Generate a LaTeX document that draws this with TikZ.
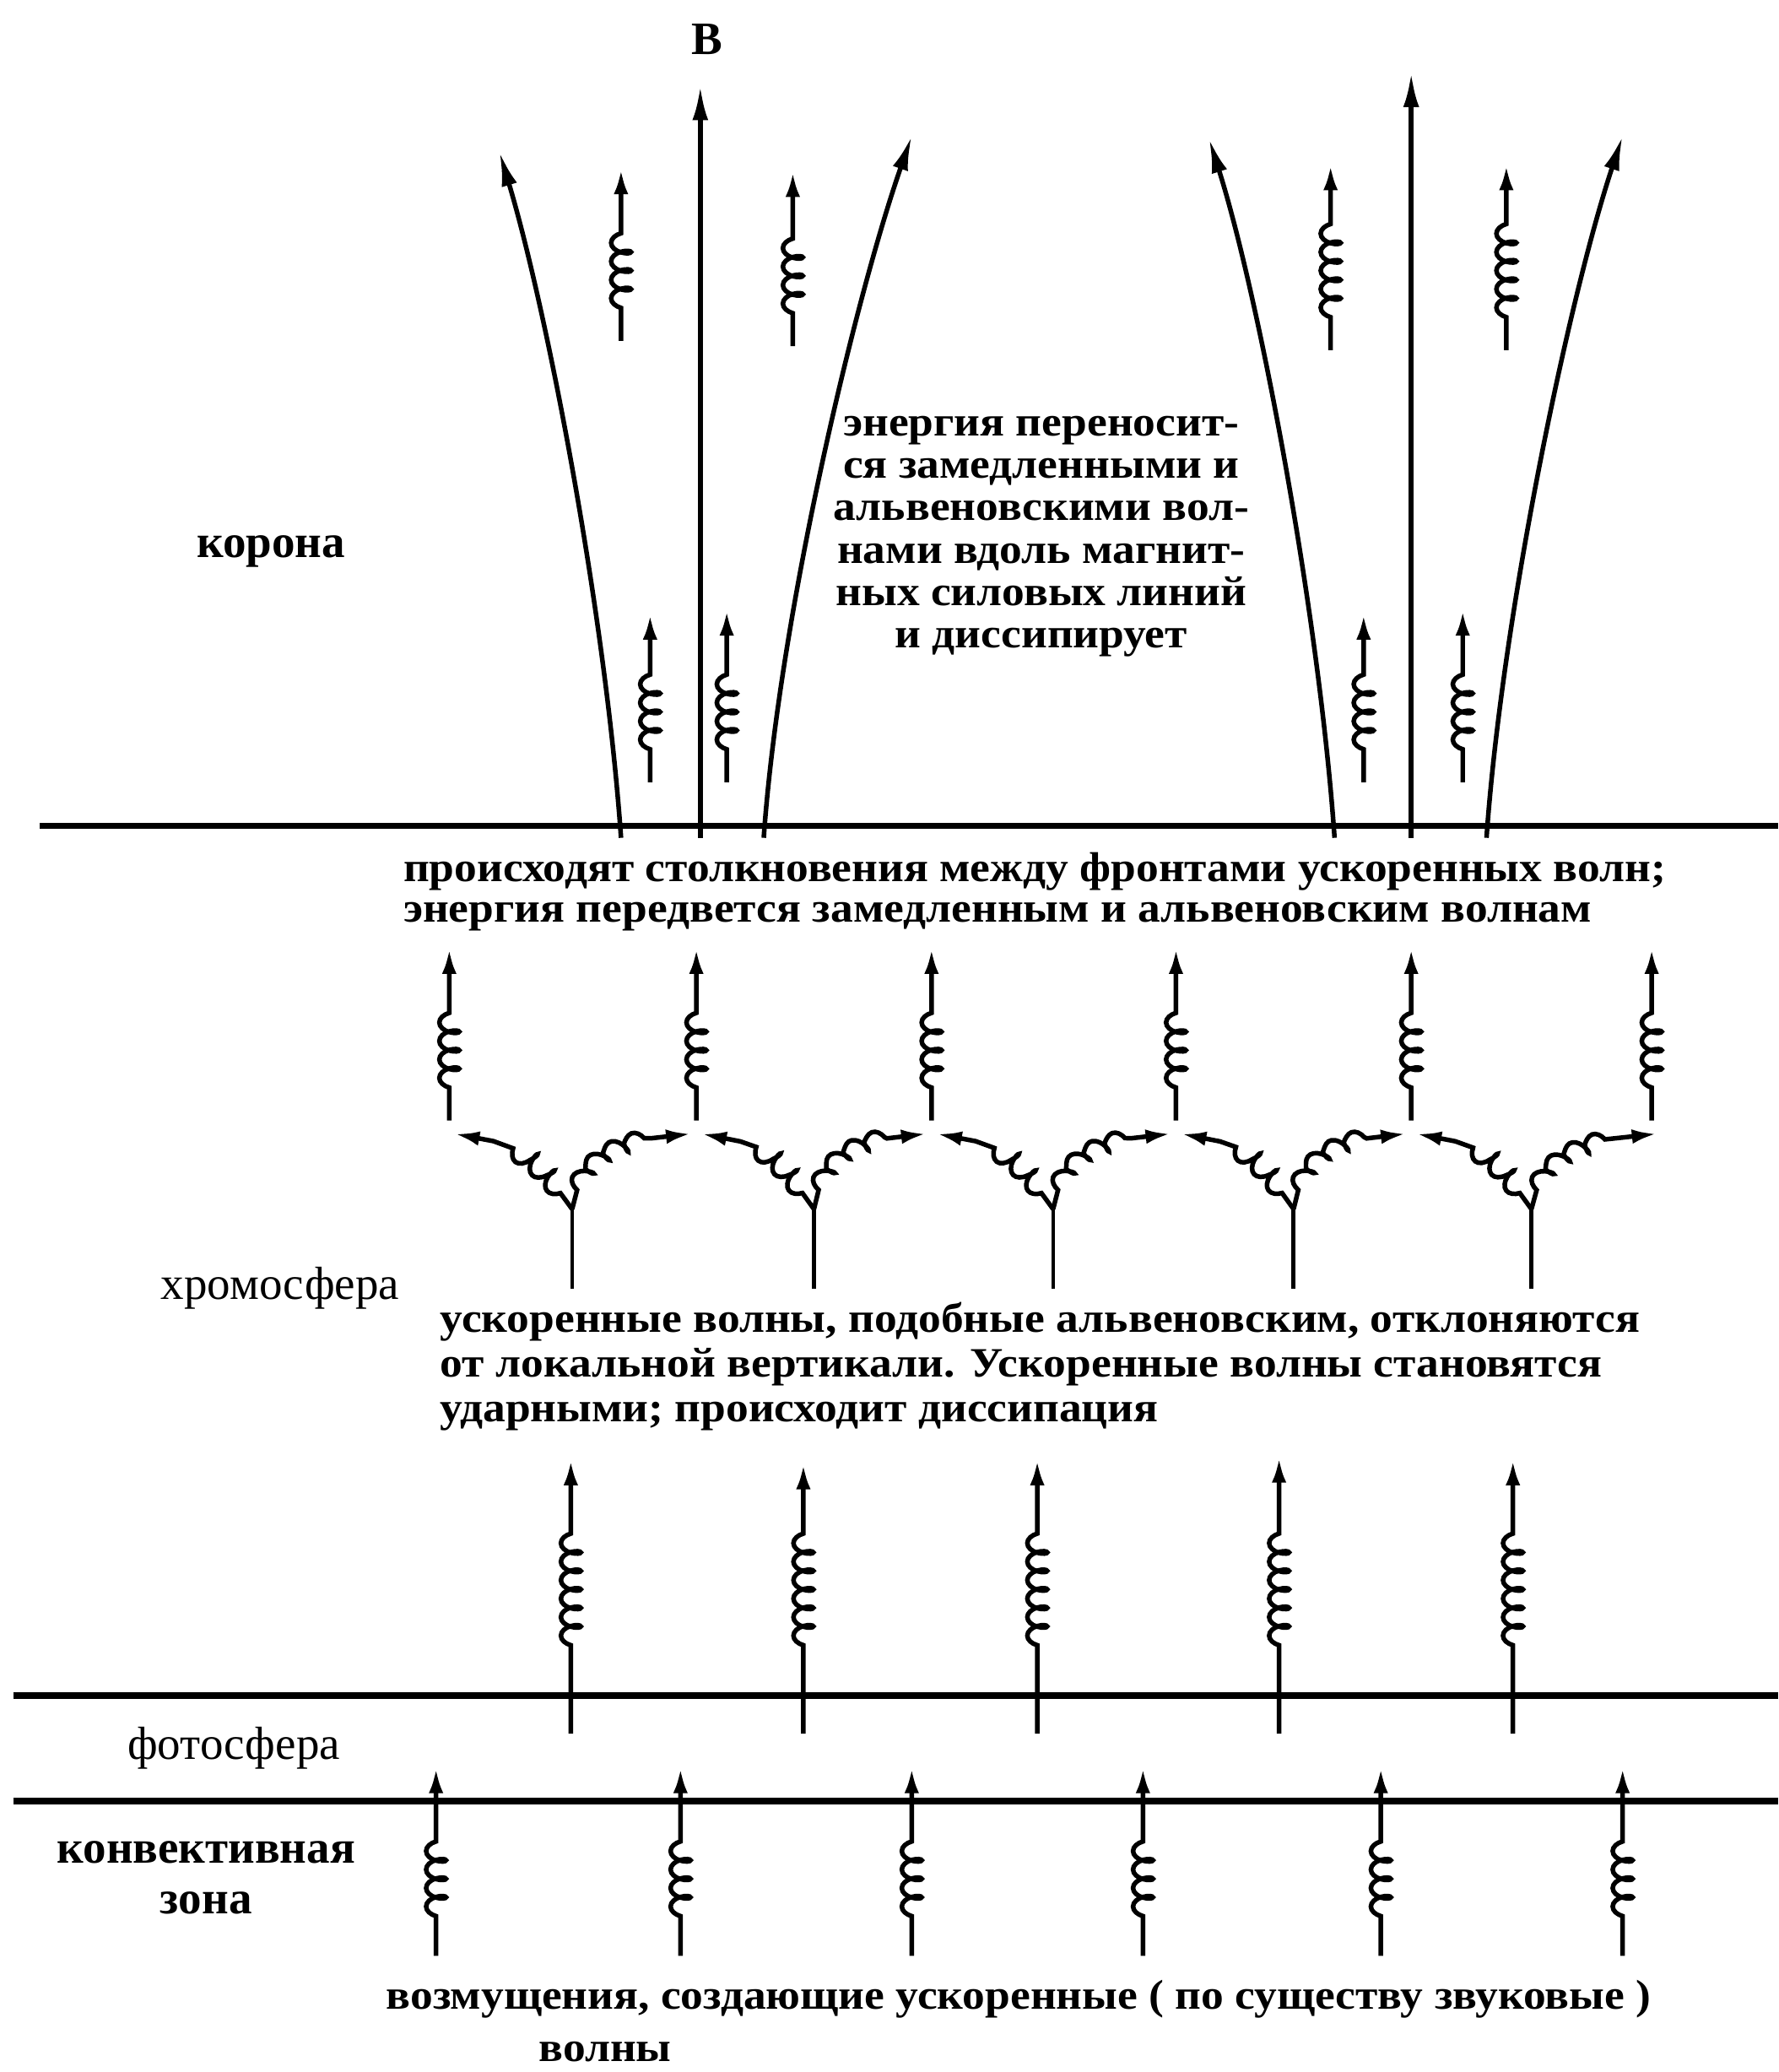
\documentclass[tikz,border=0pt]{standalone}
\usepackage{fontspec}
\setmainfont{Liberation Serif}
\newfontfamily\widefont[FakeStretch=1.08]{Liberation Serif}
\usetikzlibrary{decorations.pathmorphing,arrows.meta}
\begin{document}
\begin{tikzpicture}[x=0.02cm,y=-0.02cm,
  layer/.style={line width=0.1cm},
  field/.style={line width=0.07cm,-{Latex[length=0.52cm,width=0.24cm]}},
  stemline/.style={line width=0.06cm},
  spring/.style 2 args={line width=0.07cm,-{Latex[length=0.38cm,width=0.22cm]},
    decorate,decoration={coil,aspect=0.5,amplitude=0.15cm,segment length=0.28cm,
    pre length=#1,post length=#2}},
  branch/.style={line width=0.07cm,-{Latex[length=0.38cm,width=0.22cm]},
    decorate,decoration={coil,aspect=0.5,amplitude=0.14cm,segment length=0.34cm,
    pre length=0.3cm,post length=0.6cm}},
  txt/.style={inner sep=0pt,font={\fontsize{20pt}{18pt}\selectfont\bfseries}},
  txtr/.style={inner sep=0pt,font={\fontsize{20pt}{18pt}\selectfont}},
  block/.style={inner sep=0pt,font={\widefont\fontsize{18pt}{#1}\selectfont\bfseries}}
]
\useasboundingbox (0,0) rectangle (1346,1568);

% layer boundaries
\coordinate (A1) at (30,625);   \coordinate (A2) at (1346,625);
\coordinate (B1) at (10,1283);  \coordinate (B2) at (1346,1283);
\coordinate (C1) at (10,1363);  \coordinate (C2) at (1346,1363);
\draw[layer] (A1) -- (A2);
\draw[layer] (B1) -- (B2);
\draw[layer] (C1) -- (C2);

% magnetic field lines in the corona
\coordinate (c1b) at (530,634);  \coordinate (c1t) at (530,65);
\coordinate (l1b) at (470,634);  \coordinate (l1t) at (378,115);
\coordinate (r1b) at (578,634);  \coordinate (r1t) at (690,103);
\coordinate (c2b) at (1068,634); \coordinate (c2t) at (1068,55);
\coordinate (l2b) at (1010,634); \coordinate (l2t) at (915,105);
\coordinate (r2b) at (1125,634); \coordinate (r2t) at (1228,103);
\draw[field] (c1b) -- (c1t);
\draw[field] (l1b) .. controls +(-12,-170) and +(36,120) .. (l1t);
\draw[field] (r1b) .. controls +(12,-170) and +(-42,120) .. (r1t);
\draw[field] (c2b) -- (c2t);
\draw[field] (l2b) .. controls +(-12,-170) and +(38,120) .. (l2t);
\draw[field] (r2b) .. controls +(12,-170) and +(-40,120) .. (r2t);

% springs in the corona
\foreach \x/\yb/\yt [count=\i] in {470/258/128, 600/262/130, 492/592/465, 550/592/462,
  1007/265/125, 1140/265/125, 1032/592/465, 1107/592/462} {
  \coordinate (csb\i) at (\x,\yb); \coordinate (cst\i) at (\x,\yt);
  \draw[spring={0.5cm}{0.8cm}] (csb\i) -- (cst\i);
}

% chromosphere: arches with collisions
\foreach \x [count=\i] in {340,527,705,890,1068,1250} {
  \coordinate (apex\i) at (\x,858);
  \coordinate (upb\i) at (\x,848); \coordinate (upt\i) at (\x,718);
  \draw[spring={0.5cm}{0.8cm}] (upb\i) -- (upt\i);
}
\foreach \x/\l/\r [count=\i] in {433/344/523, 616/531/701, 797/709/886, 979/894/1064, 1159/1072/1254} {
  \coordinate (stb\i) at (\x,975); \coordinate (stt\i) at (\x,915);
  \coordinate (tl\i) at (\l,858); \coordinate (tr\i) at (\r,858);
  \draw[stemline] (stb\i) -- (stt\i);
  \draw[branch] (stt\i) .. controls +(-22,-32) and +(42,2) .. (tl\i);
  \draw[branch] (stt\i) .. controls +(6,-42) and +(-45,2) .. (tr\i);
}

% chromosphere: upward waves from photosphere
\foreach \x/\yt [count=\i] in {432/1105, 608/1108, 785/1105, 968/1103, 1145/1105} {
  \coordinate (lwb\i) at (\x,1312); \coordinate (lwt\i) at (\x,\yt);
  \draw[spring={1.34cm}{0.9cm}] (lwb\i) -- (lwt\i);
}

% convective zone waves
\foreach \x [count=\i] in {330,515,690,865,1045,1228} {
  \coordinate (cvb\i) at (\x,1480); \coordinate (cvt\i) at (\x,1338);
  \draw[spring={0.6cm}{0.94cm}] (cvb\i) -- (cvt\i);
}

% texts
\node[txt] (B) at (535,30) {B};
\node[txt] (korona) at (205,417) {корона};
\node[txtr] (chromo) at (212,975) {хромосфера};
\node[txtr] (photo) at (177,1323) {фотосфера};
\node[txt,align=center,font={\fontsize{20pt}{21.6pt}\selectfont\bfseries}] (conv) at (156,1421) {конвективная\\зона};
\node[block=18.2pt,align=center] (ctext) at (788,406) {энергия переносит-\\ся замедленными и\\альвеновскими вол-\\нами вдоль магнит-\\ных силовых линий\\и диссипирует};
\node[block=17.6pt,align=left,anchor=west] (coll) at (305,675) {происходят столкновения между фронтами ускоренных волн;\\энергия передвется замедленным и альвеновским волнам};
\node[block=19.3pt,align=left,anchor=west] (acc) at (333,1034) {ускоренные волны, подобные альвеновским, отклоняются\\от локальной вертикали. Ускоренные волны становятся\\ударными; происходит диссипация};
\node[block=22pt] (dist1) at (771,1513) {возмущения, создающие ускоренные ( по существу звуковые )};
\node[block=22pt] (dist2) at (458,1553) {волны};
\end{tikzpicture}
\end{document}
